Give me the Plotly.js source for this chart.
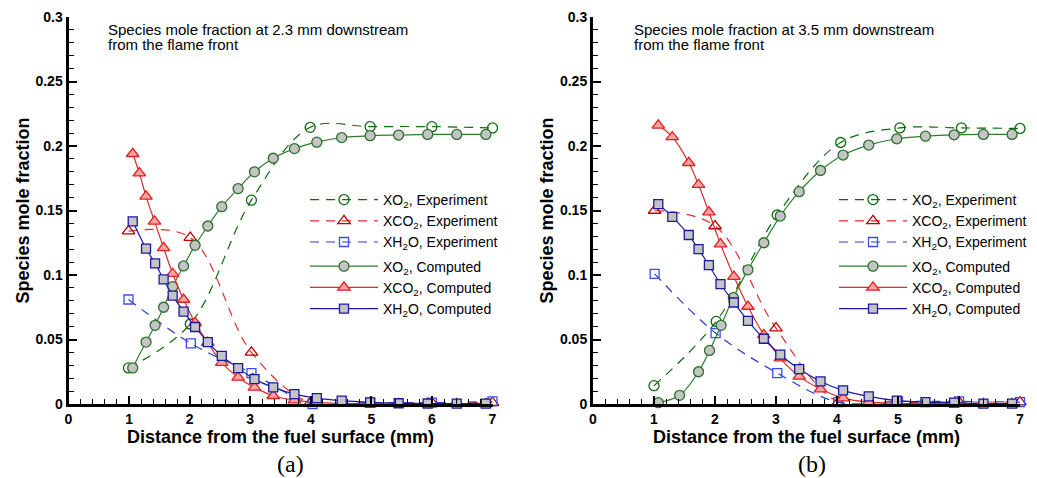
<!DOCTYPE html>
<html>
<head>
<meta charset="utf-8">
<script src="https://cdn.plot.ly/plotly-3.0.1.min.js"></script>
<style>html,body{margin:0;padding:0;background:#fff;}#chart{width:1037px;height:478px;}</style>
</head>
<body>
<div id="chart"></div>
<script>
// ---------- data: panel (a), 2.3 mm downstream ----------
const aExpX_O2  = [0.99, 2.01, 3.02, 3.99, 4.98, 6.0, 7.0];
const aExpO2    = [0.028, 0.062, 0.158, 0.2145, 0.215, 0.215, 0.214];
const aExpX_CO2 = [0.99, 2.01, 3.02, 3.99, 4.98, 6.0, 7.0];
const aExpCO2   = [0.134, 0.129, 0.040, 0.001, 0.001, 0.001, 0.001];
const aExpX_H2O = [0.99, 2.02, 3.02, 4.03, 4.98, 6.0, 7.0];
const aExpH2O   = [0.081, 0.047, 0.024, 0.0, 0.001, 0.001, 0.002];

const aCompX     = [1.06, 1.28, 1.43, 1.57, 1.72, 1.90, 2.09, 2.30, 2.53, 2.80, 3.07, 3.38, 3.73, 4.10, 4.51, 4.98, 5.45, 5.93, 6.41, 6.89];
const aCompO2    = [0.028, 0.048, 0.061, 0.075, 0.091, 0.107, 0.123, 0.138, 0.153, 0.167, 0.180, 0.1905, 0.198, 0.203, 0.2065, 0.208, 0.2085, 0.209, 0.209, 0.209];
const aCompH2O   = [0.1416, 0.1205, 0.109, 0.0966, 0.084, 0.0716, 0.0597, 0.048, 0.0373, 0.0278, 0.0193, 0.0129, 0.0077, 0.0046, 0.0026, 0.0013, 0.0006, 0.0004, 0.0003, 0.0003];
const aCompX_CO2 = [1.06, 1.17, 1.28, 1.42, 1.57, 1.72, 1.90, 2.09, 2.30, 2.53, 2.80, 3.07, 3.38, 3.73, 4.10, 4.51, 4.98, 5.45, 5.93, 6.41, 6.89];
const aCompCO2   = [0.194, 0.179, 0.161, 0.1416, 0.121, 0.101, 0.081, 0.063, 0.0476, 0.032, 0.0206, 0.0129, 0.0064, 0.003, 0.0012, 0.0005, 0.0002, 0.0001, 0.0001, 0.0001, 0.0001];

// ---------- data: panel (b), 3.5 mm downstream ----------
const bExpX_O2  = [1.0, 2.02, 3.02, 4.06, 5.03, 6.04, 7.0];
const bExpO2    = [0.0142, 0.064, 0.1465, 0.2027, 0.214, 0.214, 0.2136];
const bExpX_CO2 = [1.01, 2.0, 3.0, 4.02, 5.0, 6.0, 7.0];
const bExpCO2   = [0.150, 0.138, 0.0588, 0.0015, 0.001, 0.0015, 0.0015];
const bExpX_H2O = [1.01, 2.01, 3.02, 4.02, 5.0, 6.0, 7.0];
const bExpH2O   = [0.1009, 0.055, 0.024, 0.0015, 0.002, 0.002, 0.0015];

const bCompX_O2 = [1.07, 1.42, 1.73, 1.91, 2.10, 2.30, 2.54, 2.80, 3.07, 3.38, 3.73, 4.10, 4.52, 4.98, 5.45, 5.92, 6.40, 6.87];
const bCompO2   = [0.001, 0.0067, 0.025, 0.0415, 0.061, 0.0825, 0.104, 0.125, 0.1457, 0.1646, 0.181, 0.193, 0.2007, 0.2056, 0.2076, 0.2087, 0.209, 0.209];
const bCompX    = [1.07, 1.30, 1.57, 1.73, 1.90, 2.09, 2.31, 2.54, 2.80, 3.07, 3.38, 3.73, 4.10, 4.52, 4.98, 5.45, 5.92, 6.40, 6.87];
const bCompCO2  = [0.216, 0.207, 0.187, 0.170, 0.1488, 0.124, 0.0988, 0.0756, 0.0536, 0.0356, 0.0214, 0.0116, 0.0046, 0.0015, 0.0006, 0.0003, 0.0002, 0.0001, 0.0001];
const bCompH2O  = [0.155, 0.145, 0.131, 0.120, 0.1076, 0.093, 0.0787, 0.0645, 0.0506, 0.0382, 0.0271, 0.0175, 0.0106, 0.0059, 0.0026, 0.0015, 0.001, 0.0003, 0.0003];

// ---------- labels ----------
const seriesNames = {
  expO2: 'XO<sub>2</sub>, Experiment', expCO2: 'XCO<sub>2</sub>, Experiment', expH2O: 'XH<sub>2</sub>O, Experiment',
  compO2: 'XO<sub>2</sub>, Computed', compCO2: 'XCO<sub>2</sub>, Computed', compH2O: 'XH<sub>2</sub>O, Computed'
};
const panelNotes = [['Species mole fraction at 2.3 mm downstream', 'from the flame front'],
                    ['Species mole fraction at 3.5 mm downstream', 'from the flame front']];
const panelTags = ['(a)', '(b)'];
const xTitle = 'Distance from the fuel surface (mm)';
const yTitle = 'Species mole fraction';

// ---------- styles ----------
const W = 1037, H = 478;
const px = v => v / W, py = v => 1 - v / H;
const FONT = 'Liberation Sans, Arial, sans-serif';
const DASH = '9px,7px';
const sty = {
  expO2:  {line: '#0b6b0b', mk: '#0b6b0b', fill: 'rgba(0,0,0,0)', sym: 'circle', size: 10},
  expCO2: {line: '#e42a2a', mk: '#c00000', fill: 'rgba(0,0,0,0)', sym: 'triangle-up', size: 11},
  expH2O: {line: '#2a3ccc', mk: '#3a4cff', fill: 'rgba(0,0,0,0)', sym: 'square', size: 9},
  compO2:  {line: '#2e7d2e', mk: '#2a6f2a', fill: '#c4c4c4', sym: 'circle', size: 10},
  compCO2: {line: '#e02a2a', mk: '#e02020', fill: '#f5a3a3', sym: 'triangle-up', size: 11},
  compH2O: {line: '#1a1aa0', mk: '#1a1aa0', fill: '#c4c4c4', sym: 'square', size: 9}
};

function tr(key, x, y, xa, ya, leg) {
  const s = sty[key];
  const isExp = key.startsWith('exp');
  return {
    type: 'scatter', mode: 'lines+markers', x: x, y: y, xaxis: xa, yaxis: ya,
    name: seriesNames[key], legend: leg, legendgroup: isExp ? 'exp' : 'comp', showlegend: true,
    cliponaxis: false,
    line: {color: s.line, width: 1.2, dash: isExp ? DASH : 'solid', shape: 'spline', smoothing: 1},
    marker: {symbol: s.sym, size: s.size, color: s.fill, line: {color: s.mk, width: 1.3}}
  };
}

const data = [
  tr('expO2', aExpX_O2, aExpO2, 'x', 'y', 'legend'),
  tr('expCO2', aExpX_CO2, aExpCO2, 'x', 'y', 'legend'),
  tr('expH2O', aExpX_H2O, aExpH2O, 'x', 'y', 'legend'),
  tr('compO2', aCompX, aCompO2, 'x', 'y', 'legend'),
  tr('compCO2', aCompX_CO2, aCompCO2, 'x', 'y', 'legend'),
  tr('compH2O', aCompX, aCompH2O, 'x', 'y', 'legend'),
  tr('expO2', bExpX_O2, bExpO2, 'x2', 'y2', 'legend2'),
  tr('expCO2', bExpX_CO2, bExpCO2, 'x2', 'y2', 'legend2'),
  tr('expH2O', bExpX_H2O, bExpH2O, 'x2', 'y2', 'legend2'),
  tr('compO2', bCompX_O2, bCompO2, 'x2', 'y2', 'legend2'),
  tr('compCO2', bCompX, bCompCO2, 'x2', 'y2', 'legend2'),
  tr('compH2O', bCompX, bCompH2O, 'x2', 'y2', 'legend2')
];

const tickFont = {family: FONT, size: 14, color: '#000', weight: 'bold'};
function xax(dom, anchor) {
  return {domain: dom, anchor: anchor, range: [0, 7], dtick: 1, tick0: 0,
    showline: true, linewidth: 3, linecolor: '#000', mirror: false, showgrid: false, zeroline: false,
    ticks: 'inside', ticklen: 8, tickwidth: 2, tickcolor: '#000', tickfont: tickFont,
    minor: {dtick: 0.2, ticks: 'inside', ticklen: 5, tickwidth: 1, tickcolor: '#000', showgrid: false},
    title: {text: '<b>' + xTitle + '</b>', font: {family: FONT, size: 18, color: '#000'}, standoff: 0}};
}
function yax(dom, anchor) {
  return {domain: dom, anchor: anchor, range: [0, 0.3], dtick: 0.05, tick0: 0,
    showline: true, linewidth: 3, linecolor: '#000', mirror: false, showgrid: false, zeroline: false,
    ticks: 'inside', ticklen: 8, tickwidth: 2, tickcolor: '#000', tickfont: tickFont,
    minor: {dtick: 0.01, ticks: 'inside', ticklen: 5, tickwidth: 1, tickcolor: '#000', showgrid: false},
    title: {text: '<b>' + yTitle + '</b>', font: {family: FONT, size: 18, color: '#000'}, standoff: 2}};
}
function leg(xpix) {
  return {x: px(xpix), y: py(184), xanchor: 'left', yanchor: 'top', bgcolor: 'rgba(0,0,0,0)',
    font: {family: FONT, size: 14, color: '#000'}, traceorder: 'grouped', tracegroupgap: 3,
    itemwidth: 68, borderwidth: 0};
}

function note(xpix, ypix, text) {
  return {xref: 'paper', yref: 'paper', x: px(xpix), y: py(ypix), xanchor: 'left', yanchor: 'middle', align: 'left',
    showarrow: false, text: text, font: {family: FONT, size: 15, color: '#000'}};
}
function tag(xpix, text) {
  return {xref: 'paper', yref: 'paper', x: px(xpix), y: py(464), xanchor: 'center', yanchor: 'middle',
    showarrow: false, text: text, font: {family: 'Liberation Serif, Times New Roman, serif', size: 24, color: '#000'}};
}

const yDom = [py(404), py(17)];
const layout = {
  width: W, height: H, margin: {l: 0, r: 0, t: 0, b: 0},
  paper_bgcolor: '#fff', plot_bgcolor: '#fff', font: {family: FONT, color: '#000'},
  xaxis: xax([px(68.5), px(492.5)], 'y'),
  yaxis: yax(yDom, 'x'),
  xaxis2: xax([px(593), px(1020)], 'y2'),
  yaxis2: yax(yDom, 'x2'),
  legend: leg(305),
  legend2: leg(834),
  annotations: [
    note(106, 29, panelNotes[0][0]), note(106, 44, panelNotes[0][1]),
    note(632, 29, panelNotes[1][0]), note(632, 44, panelNotes[1][1]),
    tag(290, panelTags[0]), tag(812, panelTags[1])
  ]
};

Plotly.newPlot('chart', data, layout, {displayModeBar: false, staticPlot: true});
</script>
</body>
</html>
